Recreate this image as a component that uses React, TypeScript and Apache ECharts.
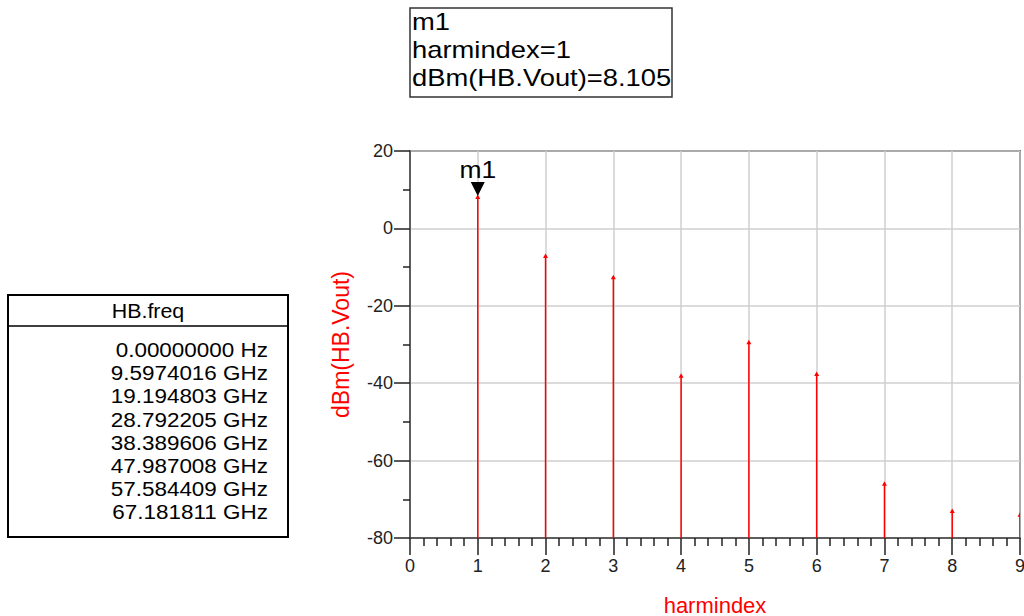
import React, { useEffect, useRef } from "react";
import * as echarts from "echarts";

const harmIndex = [1, 2, 3, 4, 5, 6, 7, 8, 9];
const dbmVout = [8.105, -7.1, -12.6, -38.1, -29.4, -37.6, -66.0, -73.0, -74.0];
const freqLabels = [
  "0.00000000 Hz",
  "9.5974016 GHz",
  "19.194803 GHz",
  "28.792205 GHz",
  "38.389606 GHz",
  "47.987008 GHz",
  "57.584409 GHz",
  "67.181811 GHz",
];
const yTicks = { min: -80, max: 20, interval: 20 };
const xTicks = { min: 0, max: 9, interval: 1 };
const markerIdx = 0;

const FONT = "Liberation Sans, Arial, sans-serif";

export default function App() {
  const ref = useRef<HTMLDivElement>(null);
  useEffect(() => {
    const chart = echarts.init(ref.current!, null, { renderer: "svg" });
    const data = harmIndex.map((h, i) => [h, dbmVout[i]]);
    const mx = harmIndex[markerIdx];
    const my = dbmVout[markerIdx];

    const tableChildren: any[] = [
      { type: "rect", shape: { x: 8, y: 295, width: 280, height: 242 }, style: { fill: "#fff", stroke: "#000", lineWidth: 2 } },
      { type: "line", shape: { x1: 8, y1: 326, x2: 288, y2: 326 }, style: { stroke: "#000", lineWidth: 1.5 } },
      { type: "text", x: 148, y: 311, scaleX: 1.07, style: { text: "HB.freq", fill: "#000", font: `20px ${FONT}`, align: "center", verticalAlign: "middle" } },
    ];
    freqLabels.forEach((t, i) => {
      tableChildren.push({
        type: "text",
        x: 268,
        y: 350 + i * 23.1,
        scaleX: 1.07,
        style: { text: t, fill: "#000", font: `21px ${FONT}`, align: "right", verticalAlign: "middle" },
      });
    });

    const boxText = (text: string, y: number) => ({
      type: "text",
      x: 412,
      y,
      scaleX: 1.19,
      style: { text, fill: "#000", font: `23px ${FONT}`, verticalAlign: "middle" },
    });

    chart.setOption({
      animation: false,
      backgroundColor: "#fff",
      grid: {
        left: 410,
        right: 4,
        top: 151,
        bottom: 78,
        containLabel: false,
        outerBoundsMode: "none",
        show: true,
        borderColor: "#000",
        borderWidth: 1.5,
      },
      xAxis: {
        type: "value",
        min: xTicks.min,
        max: xTicks.max,
        interval: xTicks.interval,
        name: "harmindex",
        nameLocation: "middle",
        nameGap: 56,
        nameTextStyle: { color: "#ff0000", fontSize: 22, fontFamily: FONT },
        axisLine: { show: true, onZero: false, lineStyle: { color: "#444", width: 1.5 } },
        axisTick: { show: true, length: 17, lineStyle: { color: "#222", width: 1.5 } },
        minorTick: { show: true, splitNumber: 5, length: 8, lineStyle: { color: "#222", width: 1.5 } },
        axisLabel: { color: "#222", fontSize: 18, fontFamily: FONT, margin: 19 },
        splitLine: { show: true, lineStyle: { color: "#cfcfcf", width: 1.5 } },
      },
      yAxis: {
        type: "value",
        min: yTicks.min,
        max: yTicks.max,
        interval: yTicks.interval,
        name: "dBm(HB.Vout)",
        nameLocation: "middle",
        nameGap: 58,
        nameTextStyle: { color: "#ff0000", fontSize: 23, fontFamily: FONT },
        axisLine: { show: true, onZero: false, lineStyle: { color: "#444", width: 1.5 } },
        axisTick: { show: true, length: 16, lineStyle: { color: "#222", width: 1.5 } },
        minorTick: { show: true, splitNumber: 2, length: 7, lineStyle: { color: "#222", width: 1.5 } },
        axisLabel: { color: "#222", fontSize: 18, fontFamily: FONT, margin: 17 },
        splitLine: { show: true, lineStyle: { color: "#cfcfcf", width: 1.5 } },
      },
      series: [
        {
          type: "custom",
          data,
          clip: true,
          renderItem: (params: any, api: any) => {
            const x = api.value(0);
            const y = api.value(1);
            const top = api.coord([x, y]);
            const base = api.coord([x, yTicks.min]);
            return {
              type: "group",
              children: [
                { type: "line", shape: { x1: top[0], y1: top[1], x2: base[0], y2: base[1] }, style: { stroke: "#ff0000", lineWidth: 1.5 } },
                { type: "polygon", shape: { points: [[top[0] - 2.5, top[1] + 2], [top[0] + 2.5, top[1] + 2], [top[0], top[1] - 2.5]] }, style: { fill: "#ff0000" } },
              ],
            };
          },
        },
        {
          type: "custom",
          data: [[mx, my]],
          renderItem: (params: any, api: any) => {
            const p = api.coord([api.value(0), api.value(1)]);
            return {
              type: "group",
              children: [
                { type: "polygon", shape: { points: [[p[0] - 7, p[1] - 15], [p[0] + 7, p[1] - 15], [p[0], p[1] - 1]] }, style: { fill: "#000" } },
                { type: "text", x: p[0], y: p[1] - 27, scaleX: 1.15, style: { text: "m1", fill: "#000", font: `23px ${FONT}`, align: "center", verticalAlign: "middle" } },
              ],
            };
          },
        },
      ],
      graphic: [
        { type: "rect", shape: { x: 410, y: 8, width: 262, height: 89 }, style: { fill: "#fff", stroke: "#333", lineWidth: 1.5 } },
        boxText("m1", 22),
        boxText(`harmindex=${mx}`, 50),
        boxText(`dBm(HB.Vout)=${my.toFixed(3)}`, 78),
        { type: "group", children: tableChildren },
      ],
    });
    return () => chart.dispose();
  }, []);
  return <div ref={ref} style={{ position: "fixed", left: 0, top: 0, width: 1024, height: 616 }} />;
}
